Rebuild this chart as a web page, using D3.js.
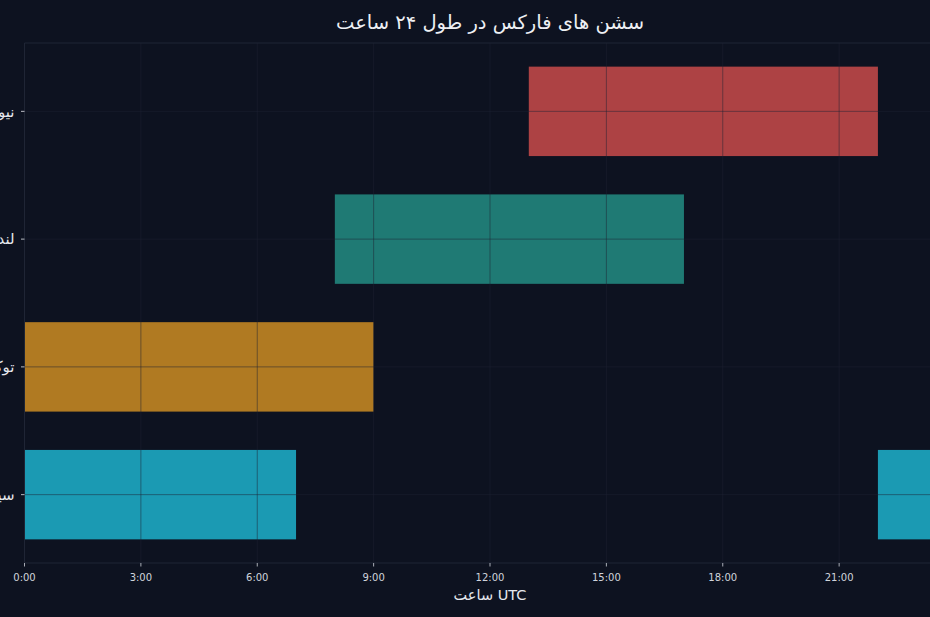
<!DOCTYPE html>
<html><head><meta charset="utf-8">
<script src="https://cdn.jsdelivr.net/npm/d3@7"></script>
<style>
html,body{margin:0;padding:0;background:#0d1220;overflow:hidden;}
svg{display:block;font-family:"DejaVu Sans",sans-serif;}
</style></head>
<body>
<svg id="c" width="930" height="617"></svg>
<script>
const sessions = ["سیدنی", "توکیو", "لندن", "نیویورک"];
const starts = [22, 0, 8, 13];
const ends = [31, 9, 17, 22];
const colors = ["#1b9ab3", "#b07a22", "#1f7a74", "#ad4244"];
const xTicks = [0, 3, 6, 9, 12, 15, 18, 21];
const xTickLabels = ["0:00", "3:00", "6:00", "9:00", "12:00", "15:00", "18:00", "21:00"];
const title = "سشن های فارکس در طول ۲۴ ساعت";
const xLabel = "ساعت UTC";

(function () {
const svg = d3.select("#c");
const W = 930, H = 617;
const mL = 24.5, mR = 955.5, mT = 43, mB = 563;
const x = d3.scaleLinear().domain([0, 24]).range([mL, mR]);
const y = d3.scaleLinear().domain([-0.535, 3.535]).range([mB, mT]);
const barH = 0.7;

svg.append("rect").attr("width", W).attr("height", H).attr("fill", "#0d1220");

const segs = [];
sessions.forEach((s, i) => {
  const a = starts[i], b = ends[i];
  if (b > 24) {
    segs.push({i, a, b: 24});
    segs.push({i, a: 0, b: b - 24});
  } else segs.push({i, a, b});
});

svg.append("clipPath").attr("id", "clp").append("rect")
  .attr("x", mL).attr("y", mT).attr("width", mR - mL).attr("height", mB - mT);

const g = svg.append("g").attr("clip-path", "url(#clp)");
g.selectAll("rect.bar").data(segs).join("rect")
  .attr("class", "bar")
  .attr("x", d => x(d.a))
  .attr("width", d => x(d.b) - x(d.a))
  .attr("y", d => y(d.i + barH / 2))
  .attr("height", d => y(d.i - barH / 2) - y(d.i + barH / 2))
  .attr("fill", d => colors[d.i]);

const gridC = "rgba(30,35,50,0.55)";
g.selectAll("line.vg").data(xTicks).join("line")
  .attr("class", "vg")
  .attr("x1", d => x(d)).attr("x2", d => x(d))
  .attr("y1", mT).attr("y2", mB)
  .attr("stroke", gridC).attr("stroke-width", 0.9);
g.selectAll("line.hg").data(sessions.map((s, i) => i)).join("line")
  .attr("class", "hg")
  .attr("y1", d => y(d)).attr("y2", d => y(d))
  .attr("x1", mL).attr("x2", mR)
  .attr("stroke", gridC).attr("stroke-width", 0.9);

const spineC = "#1f2535";
svg.append("line").attr("x1", mL).attr("x2", mR).attr("y1", mT).attr("y2", mT).attr("stroke", spineC);
svg.append("line").attr("x1", mL).attr("x2", mR).attr("y1", mB).attr("y2", mB).attr("stroke", spineC);
svg.append("line").attr("x1", mL).attr("x2", mL).attr("y1", mT).attr("y2", mB).attr("stroke", spineC);

const xa = svg.append("g");
xTicks.forEach((t, k) => {
  xa.append("line").attr("x1", x(t)).attr("x2", x(t)).attr("y1", mB).attr("y2", mB + 3.5)
    .attr("stroke", "#d0d4dc").attr("stroke-width", 0.8);
  xa.append("text").attr("x", x(t)).attr("y", mB + 17.5)
    .attr("text-anchor", "middle").attr("font-size", 10).attr("fill", "#d0d4dc")
    .text(xTickLabels[k]);
});

sessions.forEach((s, i) => {
  svg.append("line").attr("x1", mL - 3.5).attr("x2", mL).attr("y1", y(i)).attr("y2", y(i))
    .attr("stroke", "#e6e8ee").attr("stroke-width", 0.8);
  svg.append("text").attr("x", mL - 10).attr("y", y(i)).attr("dy", "0.35em")
    .attr("text-anchor", "end")
    .attr("font-size", 15).attr("fill", "#e6e8ee").text(s);
});

svg.append("text").attr("x", (mL + mR) / 2).attr("y", 600)
  .attr("text-anchor", "middle").attr("font-size", 14.5).attr("fill", "#e6e8ee").text(xLabel);

svg.append("text").attr("x", (mL + mR) / 2).attr("y", 29)
  .attr("text-anchor", "middle").attr("font-size", 19.5).attr("fill", "#eef0f4").text(title);
})();
</script>
</body></html>
